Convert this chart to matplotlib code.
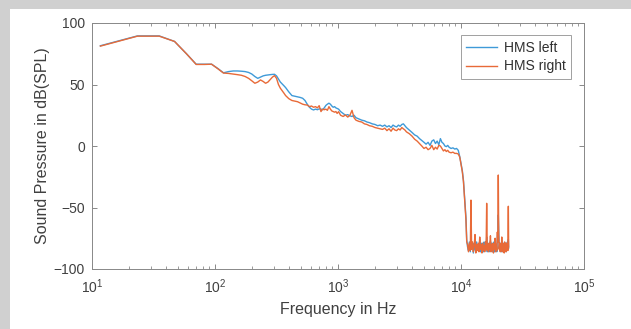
import matplotlib
matplotlib.use("Agg")
import matplotlib.pyplot as plt
from matplotlib.patches import Rectangle
from matplotlib.ticker import NullFormatter

plt.rcParams['font.family'] = ['Liberation Sans', 'DejaVu Sans']
plt.rcParams['mathtext.default'] = 'regular'

# frequency points (Hz), smooth part up to the cutoff
freq_main = [11.7, 23.4, 35.2, 46.9, 58.6, 70.3, 82.0, 93.8, 105.5, 117.2,
             128.9, 140.6, 152.3, 164.0, 175.8, 187.5, 199.2, 210.9, 222.7, 234.4,
             246.1, 257.8, 269.5, 281.3, 293.0, 304.7, 316.4, 328.0, 339.8, 351.6,
             363.3, 375.0, 398, 422, 445, 469, 492, 516, 539, 562,
             586, 609, 633, 656, 680, 703, 727, 750, 773, 797,
             820, 844, 867, 891, 914, 938, 961, 984, 1010, 1050,
             1100, 1150, 1200, 1250, 1300, 1350, 1400, 1480, 1560, 1640,
             1720, 1800, 1900, 2000, 2100, 2200, 2300, 2400, 2500, 2600,
             2700, 2800, 2900, 3000, 3100, 3200, 3300, 3400, 3500, 3600,
             3800, 4000, 4200, 4400, 4600, 4800, 5000, 5200, 5400, 5600,
             5800, 6000, 6200, 6400, 6600, 6800, 7000, 7200, 7400, 7600,
             7800, 8000, 8300, 8600, 8900, 9200, 9500, 9770, 10000, 10250,
             10470, 10700, 10970, 11130]

left_main = [81.5, 89.5, 89.5, 85.0, 75.0, 66.5, 66.5, 66.5, 63.0, 59.5,
             60.5, 61.0, 61.0, 60.8, 60.5, 59.8, 58.5, 56.5, 55.0, 56.0,
             57.0, 57.5, 57.8, 58.0, 58.2, 58.3, 57.0, 54.5, 52.0, 50.5,
             49.0, 47.5, 44.0, 41.0, 40.5, 40.0, 39.5, 38.8, 37.0, 34.0,
             31.5, 30.0, 29.3, 30.0, 29.5, 30.2, 30.0, 29.5, 31.0, 33.0,
             34.0, 34.8, 34.0, 32.5, 31.5, 32.0, 31.0, 30.5, 30.0, 28.0,
             26.5, 25.0, 25.5, 24.5, 24.0, 25.0, 23.0, 22.0, 21.0, 20.5,
             19.5, 19.0, 18.0, 17.5, 16.5, 17.0, 16.0, 17.0, 15.5, 16.5,
             15.0, 17.0, 16.0, 15.5, 17.0, 16.0, 17.5, 18.0, 16.5, 15.0,
             13.0, 11.0, 9.0, 8.0, 6.0, 4.5, 3.0, 1.5, 3.0, 0.5,
             4.0, 5.0, 2.0, 4.0, 1.0, 6.0, 3.0, 2.0, 0.0, -0.5,
             0.5, -1.0, -2.0, -1.5, -2.5, -2.0, -3.5, -8.7, -14.0, -20.0,
             -28.0, -42.0, -58.0, -76.0]

right_main = [81.2, 89.3, 89.3, 85.0, 75.0, 66.3, 66.3, 66.5, 62.8, 59.3,
              59.0, 58.5, 58.0, 57.5, 56.5, 55.0, 53.0, 51.0, 52.0, 53.7,
              52.5, 51.0, 52.0, 54.0, 56.0, 57.2, 55.0, 50.0, 47.0, 45.0,
              43.0, 41.0, 38.5, 37.0, 36.5, 36.0, 35.0, 34.0, 33.5, 33.3,
              32.0, 32.5, 31.5, 32.0, 31.0, 32.8, 28.0, 30.0, 29.5, 30.0,
              29.0, 32.0, 30.0, 28.5, 28.0, 27.5, 28.0, 26.5, 27.9, 25.0,
              24.0, 25.2, 23.5, 25.0, 29.0, 23.0, 21.0, 20.0, 19.5, 18.0,
              17.5, 16.5, 16.0, 15.0, 14.5, 14.0, 13.5, 14.5, 12.5, 14.0,
              12.0, 14.5, 13.0, 12.5, 14.0, 13.0, 15.0, 14.0, 13.0, 11.5,
              10.0, 8.0, 5.5, 4.0, 2.0, 0.0, -2.0, -1.0, -3.0, -2.0,
              0.5, -3.0, -1.0, -2.5, 0.5, 0.0, -2.0, -4.0, -3.0, -4.5,
              -3.5, -5.0, -5.5, -5.0, -6.0, -6.0, -6.5, -9.0, -15.0, -21.0,
              -29.0, -43.0, -60.0, -78.0]

# noise floor above the cutoff
freq_noise = [11300, 11500, 11700, 11900, 12050, 12200, 12400, 12600, 12800, 13000,
              13200, 13400, 13600, 13800, 14000, 14200, 14400, 14600, 14800, 15000,
              15200, 15400, 15600, 15800, 16000, 16170, 16350, 16550, 16750, 16950,
              17150, 17350, 17550, 17750, 17950, 18150, 18350, 18550, 18750, 18950,
              19150, 19350, 19550, 19750, 19950, 20100, 20250, 20450, 20650, 20850,
              21050, 21250, 21450, 21650, 21850, 22050, 22250, 22450, 22650, 22850,
              23050, 23250, 23450, 23650, 23850, 24050, 24260, 24400]

left_noise = [-82, -85, -78, -86, -76, -83, -80, -87, -79, -84,
              -86, -78, -84, -81, -85, -76, -86, -79, -84, -80,
              -86, -78, -85, -80, -83, -74, -86, -79, -85, -80,
              -86, -77, -84, -79, -86, -80, -85, -78, -86, -76,
              -84, -81, -86, -74, -70, -56, -68, -83, -80, -85,
              -79, -86, -77, -84, -80, -86, -79, -85, -80, -84,
              -79, -86, -80, -85, -78, -84, -76, -83]

right_noise = [-80, -86, -79, -85, -44, -84, -78, -86, -81, -72,
               -87, -80, -85, -79, -86, -74, -84, -80, -87, -79,
               -85, -81, -86, -78, -84, -46.6, -85, -80, -86, -79,
               -84, -73, -86, -80, -85, -79, -87, -81, -84, -75,
               -86, -80, -85, -70, -78, -23.6, -72, -84, -79, -86,
               -80, -85, -74, -86, -79, -84, -80, -87, -78, -85,
               -81, -86, -79, -84, -80, -85, -49, -82]

freq = freq_main + freq_noise
left = left_main + left_noise
right = right_main + right_noise

fig = plt.figure(figsize=(6.31, 3.29), dpi=100)
fig.patch.set_facecolor('#d0d0d0')
fig.patches.append(Rectangle((10 / 631, 0), 1, 1 - 9 / 329, transform=fig.transFigure,
                             facecolor='white', edgecolor='none', zorder=-1))

ax = fig.add_axes([92 / 631, 60 / 329, 492 / 631, 246 / 329])
ax.plot(freq, left, color='#3f9ad8', linewidth=1.0, label='HMS left')
ax.plot(freq, right, color='#e86a38', linewidth=1.0, label='HMS right')

ax.set_xscale('log')
ax.set_xlim(10, 1e5)
ax.set_ylim(-100, 100)
ax.set_xticks([10, 100, 1000, 10000, 100000])
ax.set_xticklabels(['$10^{1}$', '$10^{2}$', '$10^{3}$', '$10^{4}$', '$10^{5}$'])
ax.xaxis.set_minor_formatter(NullFormatter())
ax.set_yticks([-100, -50, 0, 50, 100])

axis_col = '#888888'
for s in ax.spines.values():
    s.set_color(axis_col)
    s.set_linewidth(0.7)
ax.tick_params(which='both', direction='in', top=True, right=True, colors=axis_col,
               labelcolor='#404040', labelsize=10)
ax.tick_params(which='major', length=3.5, width=0.7)
ax.tick_params(which='minor', length=2, width=0.6)
ax.tick_params(axis='x', pad=6)
ax.tick_params(axis='y', pad=5)

ax.set_xlabel('Frequency in Hz', fontsize=11.5, color='#404040')
ax.set_ylabel('Sound Pressure in dB(SPL)', fontsize=11.5, color='#404040')
ax.xaxis.set_label_coords(0.5, -0.135)
ax.yaxis.set_label_coords(-0.085, 0.5)

leg = ax.legend(loc='upper right', bbox_to_anchor=(0.974, 0.951), fontsize=10,
                frameon=True, fancybox=False, borderpad=0.4, handlelength=2.2,
                handletextpad=0.5, labelspacing=0.35, borderaxespad=0)
leg.get_frame().set_edgecolor('#888888')
leg.get_frame().set_linewidth(0.7)
for t in leg.get_texts():
    t.set_color('#303030')

fig.savefig('out.png', dpi=100, facecolor=fig.get_facecolor())
